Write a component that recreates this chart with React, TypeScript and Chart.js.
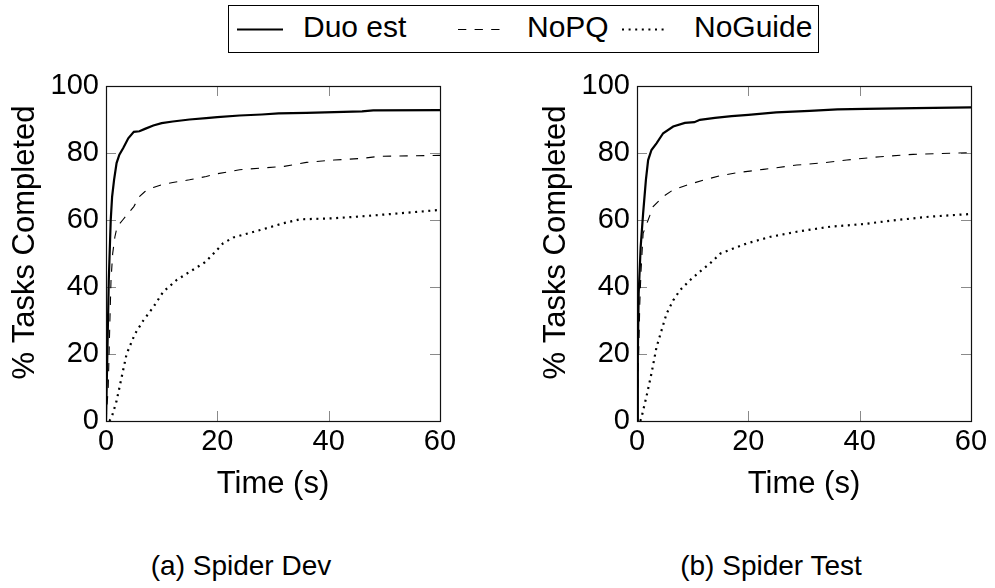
import React, { useEffect, useRef } from "react";
import { Chart, registerables } from "chart.js";

Chart.register(...registerables);

const FONT = "'Liberation Sans', Arial, Helvetica, sans-serif";

const seriesNames = ["Duo est", "NoPQ", "NoGuide"];
const xTickValues = [0, 20, 40, 60];
const yTickValues = [0, 20, 40, 60, 80, 100];
const xAxisTitle = "Time (s)";
const yAxisTitle = "% Tasks Completed";
const panelCaptions = ["(a) Spider Dev", "(b) Spider Test"];

// Spider Dev: [time (s), % tasks completed]
const devDuoEst: [number, number][] = [
  [0, 0], [0.3, 25], [0.5, 42], [0.85, 60], [1.1, 67], [1.45, 72], [1.9, 77],
  [2.4, 79.5], [3.1, 81.5], [4.0, 84.4], [5.0, 86.3], [6.0, 86.5], [7.0, 87.2],
  [8.5, 88.2], [10, 88.9], [12, 89.4], [15, 90.0], [18, 90.4], [20, 90.7],
  [24, 91.2], [28, 91.5], [31, 91.8], [36, 92.0], [41, 92.2], [46, 92.4],
  [48, 92.7], [60, 92.8],
];
const devNoPQ: [number, number][] = [
  [0, 0], [0.4, 10], [0.7, 30], [0.9, 42], [1.2, 50], [1.6, 55], [2.0, 58],
  [3.0, 60], [4.0, 62], [5.0, 64], [6, 67], [7, 68.5], [8.5, 69.7], [10, 70.5],
  [12, 71.2], [15, 72], [18, 73], [20, 73.8], [24, 75], [28, 75.5], [32, 76],
  [36, 77.2], [41, 77.9], [46, 78.4], [49, 79], [60, 79.3],
];
const devNoGuide: [number, number][] = [
  [0.6, 0], [1.0, 1], [1.9, 6], [2.8, 13], [3.7, 20], [5.2, 26], [6.7, 30],
  [8.5, 34], [10.3, 38.6], [12.7, 42.1], [15.1, 44.6], [17.8, 47.4], [19.9, 51],
  [21, 53], [22.9, 54.8], [27.7, 57], [31.8, 59], [34.8, 60.2], [40.8, 60.5],
  [46.8, 61.2], [52.8, 62], [60, 63],
];

// Spider Test: [time (s), % tasks completed]
const testDuoEst: [number, number][] = [
  [0, 0], [0.15, 20], [0.3, 38], [0.66, 52], [1.1, 62], [1.6, 72], [2.0, 77.9],
  [2.6, 80.9], [3.5, 82.9], [4.7, 85.9], [6.5, 87.9], [8.6, 89], [10.3, 89.2],
  [11.3, 89.9], [14, 90.5], [17, 91], [20, 91.4], [25, 92.1], [31, 92.6],
  [36, 93], [41, 93.2], [50, 93.4], [60, 93.6],
];
const testNoPQ: [number, number][] = [
  [0, 0], [0.3, 20], [0.5, 35], [0.7, 44], [1.1, 56], [2.0, 60], [2.9, 64],
  [4.7, 67], [6.5, 69], [8.9, 70.4], [11.9, 71.9], [14.9, 73.2], [17.9, 74.1],
  [22.7, 75.1], [28.7, 76.4], [33, 77], [37.7, 77.9], [43.7, 78.9], [49.6, 79.6],
  [60, 80.1],
];
const testNoGuide: [number, number][] = [
  [0.6, 0], [0.84, 1.3], [1.7, 7.3], [2.6, 14.2], [3.5, 22], [4.4, 27], [5.3, 32],
  [6.5, 36], [7.7, 39], [9.5, 42], [11.3, 44.6], [13.1, 47], [15, 50],
  [17.3, 51.5], [19.7, 53], [24, 55], [28.7, 56.5], [34.7, 58], [40.7, 58.8],
  [46.7, 60], [52.6, 61], [60, 61.8],
];

// Solid, dashed and dotted strokes for the three series
const lineStyles = [
  { width: 2.2, dash: [] as number[] },
  { width: 1.1, dash: [8.3, 8.3] },
  { width: 2.2, dash: [2, 4.6] },
];

// Black frame with short inward tick marks on all four sides, plus the rotated y title
const framePlugin = {
  id: "frameTicks",
  beforeDatasetsDraw(chart: any) {
    const { ctx, chartArea: a, scales } = chart;
    const len = 10;
    ctx.save();
    ctx.strokeStyle = "#8a8a8a";
    ctx.lineWidth = 1;
    ctx.beginPath();
    for (const t of scales.x.ticks) {
      const px = Math.round(scales.x.getPixelForValue(t.value)) + 0.5;
      if (px <= a.left + 1 || px >= a.right - 1) continue;
      ctx.moveTo(px, a.bottom);
      ctx.lineTo(px, a.bottom - len);
      ctx.moveTo(px, a.top);
      ctx.lineTo(px, a.top + len);
    }
    for (const t of scales.y.ticks) {
      const py = Math.round(scales.y.getPixelForValue(t.value)) + 0.5;
      if (py <= a.top + 1 || py >= a.bottom - 1) continue;
      ctx.moveTo(a.left, py);
      ctx.lineTo(a.left + len, py);
      ctx.moveTo(a.right, py);
      ctx.lineTo(a.right - len, py);
    }
    ctx.stroke();
    ctx.strokeStyle = "#111";
    ctx.lineWidth = 1.2;
    ctx.strokeRect(
      Math.round(a.left) + 0.5,
      Math.round(a.top) + 0.5,
      Math.round(a.right) - Math.round(a.left),
      Math.round(a.bottom) - Math.round(a.top)
    );
    ctx.restore();
  },
  afterDraw(chart: any) {
    const { ctx, chartArea: a } = chart;
    ctx.save();
    ctx.translate(a.left - 81, (a.top + a.bottom) / 2 - 11);
    ctx.rotate(-Math.PI / 2);
    ctx.font = `31px ${FONT}`;
    ctx.fillStyle = "#000";
    ctx.textAlign = "center";
    ctx.textBaseline = "middle";
    ctx.fillText(yAxisTitle, 0, 0);
    ctx.restore();
  },
};

type PanelProps = {
  series: [number, number][][];
  left: number;
  width: number;
  plotLeft: number;
  plotRight: number;
};

const CANVAS_TOP = 60;
const CANVAS_H = 460;

function Panel({ series, left, width, plotLeft, plotRight }: PanelProps) {
  const ref = useRef<HTMLCanvasElement>(null);

  useEffect(() => {
    const canvas = ref.current;
    if (!canvas) return;
    const tickFont = { size: 29, family: FONT };
    const chart = new Chart(canvas, {
      type: "line",
      data: {
        datasets: series.map((pts, i) => ({
          label: seriesNames[i],
          data: pts.map(([x, y]) => ({ x, y })),
          borderColor: "#000",
          backgroundColor: "#000",
          borderWidth: lineStyles[i].width,
          borderDash: lineStyles[i].dash,
          pointRadius: 0,
          fill: false,
          tension: 0,
        })),
      },
      options: {
        responsive: false,
        animation: false,
        events: [],
        layout: { padding: { left: 0, top: 26, right: width - plotRight, bottom: 9 } },
        plugins: {
          legend: { display: false },
          tooltip: { enabled: false },
        },
        scales: {
          x: {
            type: "linear",
            min: 0,
            max: 60,
            afterBuildTicks: (s: any) => {
              s.ticks = xTickValues.map((v) => ({ value: v }));
            },
            afterFit: (s: any) => {
              s.height = 90;
            },
            grid: { display: false, drawTicks: false },
            border: { display: false },
            ticks: { padding: 4, color: "#000", font: tickFont, maxRotation: 0, autoSkip: false },
            title: {
              display: true,
              text: xAxisTitle,
              color: "#000",
              font: { size: 31, family: FONT },
              padding: { top: 0, bottom: 8 },
            },
          },
          y: {
            type: "linear",
            min: 0,
            max: 100,
            afterBuildTicks: (s: any) => {
              s.ticks = yTickValues.map((v) => ({ value: v }));
            },
            afterFit: (s: any) => {
              s.width = plotLeft;
            },
            grid: { display: false, drawTicks: false },
            border: { display: false },
            ticks: { padding: 7, color: "#000", font: tickFont, autoSkip: false },
          },
        },
      } as any,
      plugins: [framePlugin],
    });
    return () => chart.destroy();
  }, []);

  return (
    <canvas
      ref={ref}
      width={width}
      height={CANVAS_H}
      style={{ position: "absolute", left, top: CANVAS_TOP, width, height: CANVAS_H }}
    />
  );
}

// Legend sample spans and label starts along the shared legend row
const legendSampleX = [
  [237, 283],
  [458, 501],
  [622, 668],
];
const legendTextX = [303, 527, 694];
const LEGEND_Y = 29.5;

function Legend() {
  return (
    <>
      <div
        style={{
          position: "absolute",
          left: 228,
          top: 5,
          width: 591,
          height: 48,
          border: "1px solid #000",
          boxSizing: "border-box",
        }}
      />
      <svg
        width={995}
        height={60}
        style={{ position: "absolute", left: 0, top: 0 }}
      >
        {lineStyles.map((st, i) => (
          <line
            key={i}
            x1={legendSampleX[i][0]}
            x2={legendSampleX[i][1]}
            y1={LEGEND_Y}
            y2={LEGEND_Y}
            stroke="#000"
            strokeWidth={st.width}
            strokeDasharray={st.dash.length ? st.dash.join(" ") : undefined}
          />
        ))}
      </svg>
      {seriesNames.map((name, i) => (
        <span
          key={name}
          style={{
            position: "absolute",
            left: legendTextX[i],
            top: 12,
            fontSize: 30,
            lineHeight: "30px",
            whiteSpace: "nowrap",
            color: "#000",
          }}
        >
          {name}
        </span>
      ))}
    </>
  );
}

export default function App() {
  return (
    <div
      style={{
        position: "absolute",
        left: 0,
        top: 0,
        width: 995,
        height: 588,
        background: "#fff",
        fontFamily: FONT,
        overflow: "hidden",
      }}
    >
      <Legend />
      <Panel series={[devDuoEst, devNoPQ, devNoGuide]} left={0} width={497} plotLeft={106} plotRight={440} />
      <Panel series={[testDuoEst, testNoPQ, testNoGuide]} left={497} width={498} plotLeft={140} plotRight={474} />
      <div
        style={{
          position: "absolute",
          left: 91,
          top: 546,
          width: 300,
          textAlign: "center",
          fontSize: 28,
          lineHeight: "40px",
          color: "#000",
        }}
      >
        {panelCaptions[0]}
      </div>
      <div
        style={{
          position: "absolute",
          left: 621,
          top: 546,
          width: 300,
          textAlign: "center",
          fontSize: 28,
          lineHeight: "40px",
          color: "#000",
        }}
      >
        {panelCaptions[1]}
      </div>
    </div>
  );
}
